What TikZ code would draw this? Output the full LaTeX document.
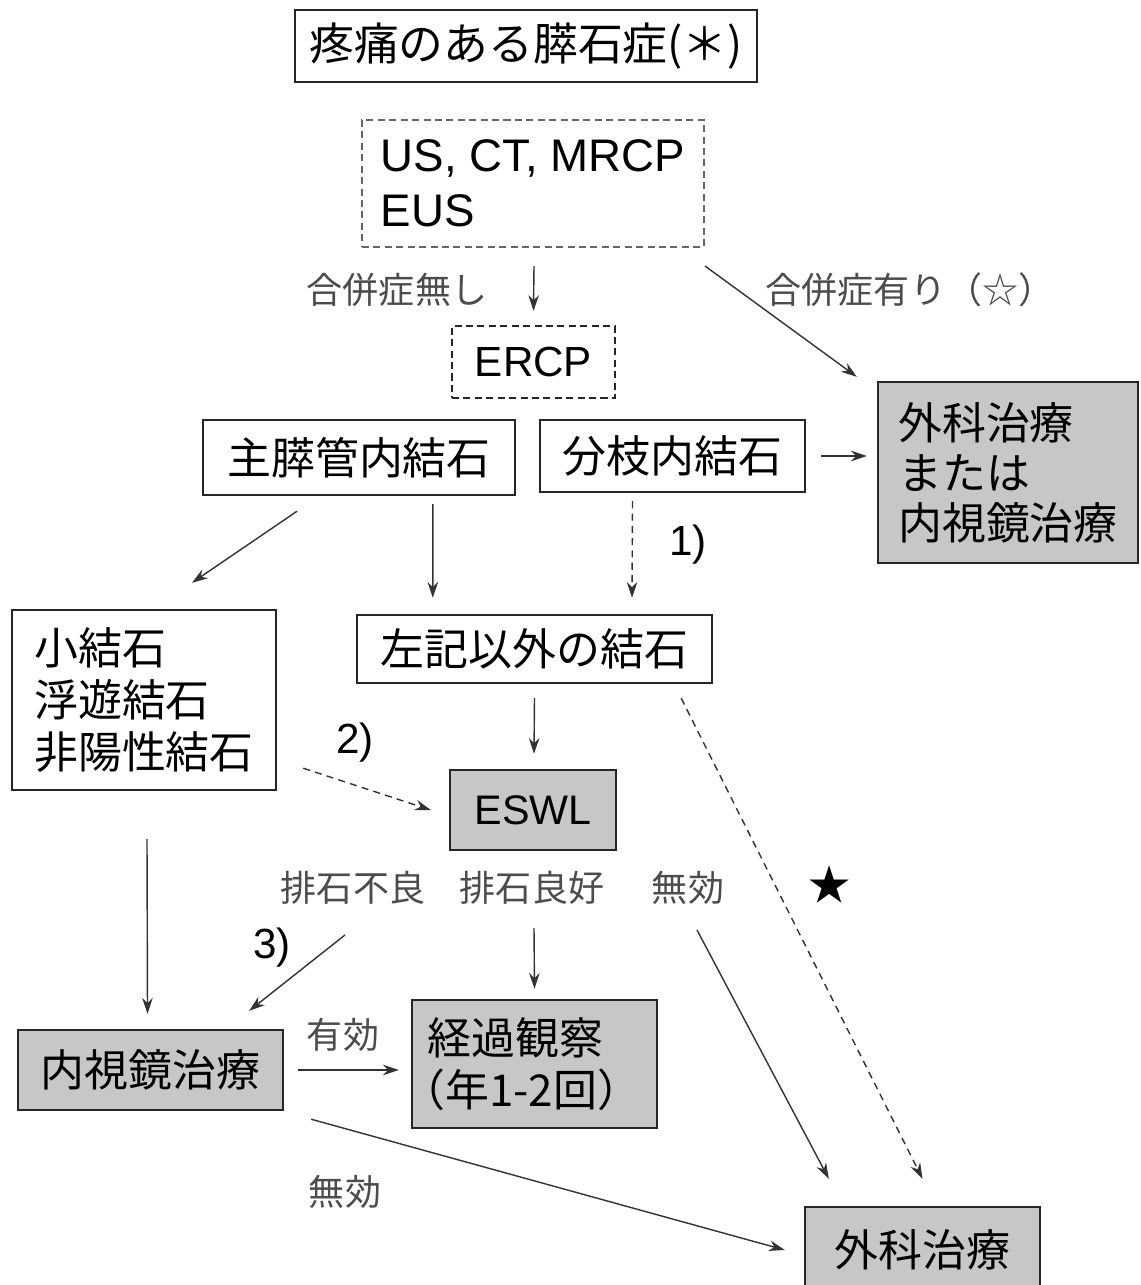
\documentclass[tikz,border=0pt]{standalone}
\usepackage{fontspec}
\setmainfont{Liberation Sans}
\newfontfamily\jp{Noto Sans CJK JP}
\usetikzlibrary{arrows.meta,calc}
\tikzset{
 box/.style={draw=black!85, line width=1.4pt, fill=white, inner sep=0pt, font=\jp\fontsize{25}{29.6}\selectfont, align=left},
 gbox/.style={box, fill=black!22},
 dbox/.style={box, dash pattern=on 4pt off 2.5pt, line width=1.2pt},
 lab/.style={font=\jp\fontsize{20.5}{24}\selectfont, text=black!70, inner sep=0pt},
 num/.style={font=\fontsize{24}{28}\selectfont, inner sep=0pt},
 arr/.style={draw=black!80, line width=0.8pt, -{Stealth[length=9pt,width=6pt]}},
 darr/.style={arr, dash pattern=on 4pt off 3pt},
}
\begin{document}
\begin{tikzpicture}[x=0.02cm,y=-0.02cm]
\useasboundingbox (0,0) rectangle (1140,1285);
% boxes
\node[box, minimum width=9.24cm, minimum height=1.44cm, font=\jp\fontsize{25.5}{30}\selectfont] (title) at (526,46) {疼痛のある膵石症(＊)};
\node[dbox, draw=black!60, minimum width=6.84cm, minimum height=2.54cm, font=\fontsize{26}{31.3}\selectfont] (us) at (533,183.5) {US, CT, MRCP\\EUS};
\node[dbox, minimum width=3.26cm, minimum height=1.44cm, font=\fontsize{24}{28}\selectfont] (ercp) at (533.5,362) {ERCP};
\node[box, minimum width=6.24cm, minimum height=1.5cm] (shu) at (359,457.5) {主膵管内結石};
\node[box, minimum width=5.3cm, minimum height=1.44cm] (bunshi) at (672.5,456) {分枝内結石};
\node[gbox, minimum width=5.2cm, minimum height=3.62cm, font=\jp\fontsize{25}{28.5}\selectfont] (sx) at (1008,472.5) {外科治療\\または\\内視鏡治療};
\node[box, minimum width=5.28cm, minimum height=3.6cm] (small) at (144,700) {小結石\\浮遊結石\\非陽性結石};
\node[box, minimum width=7.1cm, minimum height=1.36cm] (sakki) at (534.5,649) {左記以外の結石};
\node[gbox, minimum width=3.32cm, minimum height=1.6cm, font=\fontsize{23.5}{28}\selectfont] (eswl) at (533,810) {ESWL};
\node[gbox, minimum width=5.3cm, minimum height=1.6cm] (naishi) at (150.5,1070) {内視鏡治療};
\node[gbox, minimum width=4.9cm, minimum height=2.56cm] (keika) at (534.5,1064) {経過観察\\\hspace*{-0.6em}（年1-2回）};
\node[gbox, minimum width=4.7cm, minimum height=1.72cm] (geka) at (922.5,1250) {外科治療};
% labels
\node[lab] (nashi) at (397,290) {合併症無し};
\node[lab] (ari) at (910,290) {合併症有り（☆）};
\node[num] (n1) at (688,545) {1)};
\node[num] (n2) at (355,743) {2)};
\node[num] (n3) at (272,948) {3)};
\node[lab] (furyo) at (353,888) {排石不良};
\node[lab] (ryoko) at (532,888) {排石良好};
\node[lab] (muko) at (688,888) {無効};
\node[lab] (yuko) at (343,1035) {有効};
\node[lab] (muko2) at (345,1192) {無効};
\node[font=\jp\fontsize{24}{28}\selectfont, inner sep=0pt] (star) at (830,885) {★};
% connectors
\draw[arr] ($(us.south)+(1,18)$) -- ($(ercp.north)+(0,-14)$);
\draw[arr] ($(us.south east)+(0,18)$) -- ($(sx.north west)+(-20,-4)$);
\draw[arr] ($(bunshi.east)+(15,0)$) -- ($(sx.west|-bunshi.east)+(-10,0)$);
\draw[arr] ($(shu.south)+(-62,15)$) -- ($(small.north)+(48,-26)$);
\draw[arr] ($(shu.south west)+(231,8)$) -- ($(sakki.north west)+(77,-16)$);
\draw[darr] ($(bunshi.south)+(-40,8)$) -- ($(sakki.north)+(97.5,-16)$);
\draw[arr] ($(sakki.south)+(0,14)$) -- ($(eswl.north)+(1,-15)$);
\draw[darr] ($(small.south east)+(26,-23)$) -- ($(eswl.west)+(-18,0)$);
\draw[darr] ($(sakki.south east)+(-32,14)$) -- ($(geka.north)+(0,-27)$);
\draw[arr] ($(furyo.south)+(-8,30)$) -- ($(naishi.north east)+(-35,-18)$);
\draw[arr] ($(ryoko.south)+(2,23)$) -- ($(keika.north)+(0,-10)$);
\draw[arr] ($(muko.south)+(9,25)$) -- ($(geka.north west)+(25,-27)$);
\draw[arr] ($(small.south)+(3,48)$) -- ($(naishi.north)+(-3,-15)$);
\draw[arr] ($(naishi.east)+(14,0)$) -- ($(keika.west|-naishi.east)+(-12,0)$);
\draw[arr] ($(naishi.south east)+(27,8)$) -- ($(geka.west)+(-19,0)$);
\end{tikzpicture}
\end{document}
